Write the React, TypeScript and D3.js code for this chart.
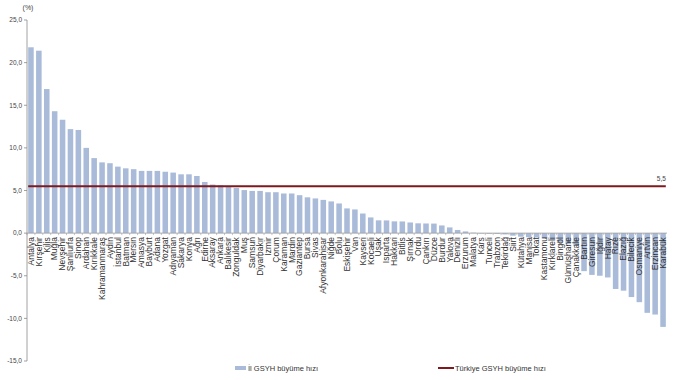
import React from "react";
import * as d3 from "d3";

const provinces: string[] = [
  "Antalya", "Kırşehir", "Kilis", "Muğla", "Nevşehir", "Şanlıurfa", "Sinop", "Ardahan", "Kırıkkale", "Kahramanmaraş",
  "Aydın", "İstanbul", "Batman", "Mersin", "Amasya", "Bayburt", "Adana", "Yozgat", "Adıyaman", "Sakarya",
  "Konya", "Ağrı", "Edirne", "Aksaray", "Ankara", "Balıkesir", "Zonguldak", "Muş", "Samsun", "Diyarbakır",
  "İzmir", "Çorum", "Karaman", "Mardin", "Gaziantep", "Bursa", "Sivas", "Afyonkarahisar", "Niğde", "Bolu",
  "Eskişehir", "Van", "Kayseri", "Kocaeli", "Uşak", "Isparta", "Hakkari", "Bitlis", "Şırnak", "Ordu",
  "Çankırı", "Düzce", "Burdur", "Yalova", "Denizli", "Erzurum", "Malatya", "Kars", "Tunceli", "Trabzon",
  "Tekirdağ", "Siirt", "Kütahya", "Manisa", "Tokat", "Kastamonu", "Kırklareli", "Bingöl", "Gümüşhane", "Çanakkale",
  "Bartın", "Giresun", "Iğdır", "Hatay", "Rize", "Elazığ", "Bilecik", "Osmaniye", "Artvin", "Erzincan",
  "Karabük",
];

const growth: number[] = [
  21.8, 21.4, 16.9, 14.3, 13.3, 12.2, 12.1, 10.0, 8.8, 8.3,
  8.2, 7.8, 7.6, 7.5, 7.3, 7.3, 7.3, 7.2, 7.1, 6.9,
  6.9, 6.7, 6.0, 5.7, 5.6, 5.4, 5.3, 5.05, 4.95, 4.95,
  4.8, 4.8, 4.65, 4.65, 4.45, 4.2, 4.07, 3.9, 3.72, 3.48,
  2.9, 2.78, 2.3, 1.84, 1.5, 1.49, 1.38, 1.37, 1.25, 1.15,
  1.13, 1.12, 0.9, 0.67, 0.37, 0.2, 0.05, -0.05, -0.08, -0.1,
  -0.15, -0.3, -0.42, -0.48, -0.52, -0.62, -0.8, -1.05, -1.3, -1.5,
  -4.46, -4.9, -5.0, -5.2, -6.55, -6.75, -7.5, -8.1, -9.35, -9.55,
  -11.0,
];

const turkeyGrowth = 5.5;
const yTicks: number[] = [25, 20, 15, 10, 5, 0, -5, -10, -15];
const legendLabels: string[] = ["İl GSYH büyüme hızı", "Türkiye GSYH büyüme hızı"];

const W = 677;
const H = 380;
const FONT = "'Liberation Sans', Arial, sans-serif";
const BAR = "#a9bbd9";
const LINE = "#7e1a1f";

const fmt = (v: number) => v.toFixed(1).replace(".", ",");

export default function App() {
  const x = d3
    .scaleBand<string>()
    .domain(provinces)
    .range([27, 667])
    .paddingInner(0.3)
    .paddingOuter(0.15);
  const y = d3.scaleLinear().domain([-15, 25]).range([361, 20]);
  const y0 = y(0);
  const axisX = 27;
  const lineX1 = x(provinces[0])!;
  const lineX2 = x(provinces[provinces.length - 1])! + x.bandwidth();
  const ly = y(turkeyGrowth);

  return (
    <svg
      width={W}
      height={H}
      style={{ position: "absolute", left: 0, top: 0, display: "block", background: "#fff" }}
      fontFamily={FONT}
    >
      {provinces.map((p, i) => {
        const v = growth[i];
        const top = Math.min(y(v), y0);
        const h = Math.abs(y(v) - y0);
        return <rect key={p} x={x(p)} y={top} width={x.bandwidth()} height={Math.max(h, 0.5)} fill={BAR} />;
      })}

      <line x1={axisX} x2={667} y1={y0} y2={y0} stroke="#9a9a9a" strokeWidth={0.8} />
      {provinces.map((p) => (
        <line
          key={"t" + p}
          x1={x(p)! - x.step() * 0.15}
          x2={x(p)! - x.step() * 0.15}
          y1={y0}
          y2={y0 + 2}
          stroke="#9a9a9a"
          strokeWidth={0.6}
        />
      ))}

      <line x1={axisX} x2={axisX} y1={y(25)} y2={y(-15)} stroke="#8a8a8a" strokeWidth={0.8} />
      {yTicks.map((t) => (
        <g key={t}>
          <line x1={axisX - 3} x2={axisX} y1={y(t)} y2={y(t)} stroke="#8a8a8a" strokeWidth={0.8} />
          <text x={axisX - 5} y={y(t)} dy="0.35em" textAnchor="end" fontSize={6.5} fill="#444">
            {fmt(t)}
          </text>
        </g>
      ))}
      <text x={28} y={10} textAnchor="middle" fontSize={7} fill="#444">
        (%)
      </text>

      {provinces.map((p) => {
        const cx = x(p)! + x.bandwidth() / 2;
        return (
          <text
            key={"l" + p}
            transform={`translate(${cx},${y0 + 4}) rotate(-90)`}
            textAnchor="end"
            dy="0.33em"
            fontSize={8.5}
            fill="#333"
          >
            {p}
          </text>
        );
      })}

      <line x1={lineX1} x2={lineX2} y1={ly} y2={ly} stroke={LINE} strokeWidth={2.2} />
      <text x={lineX2} y={ly - 5} textAnchor="end" fontSize={6.5} fill="#444">
        {fmt(turkeyGrowth)}
      </text>

      <rect x={235} y={366} width={11} height={4} fill={BAR} />
      <text x={248} y={368} dy="0.35em" fontSize={7.5} fill="#333">
        {legendLabels[0]}
      </text>
      <line x1={438} x2={454} y1={368} y2={368} stroke={LINE} strokeWidth={2} />
      <text x={455} y={368} dy="0.35em" fontSize={7.5} fill="#333">
        {legendLabels[1]}
      </text>
    </svg>
  );
}
